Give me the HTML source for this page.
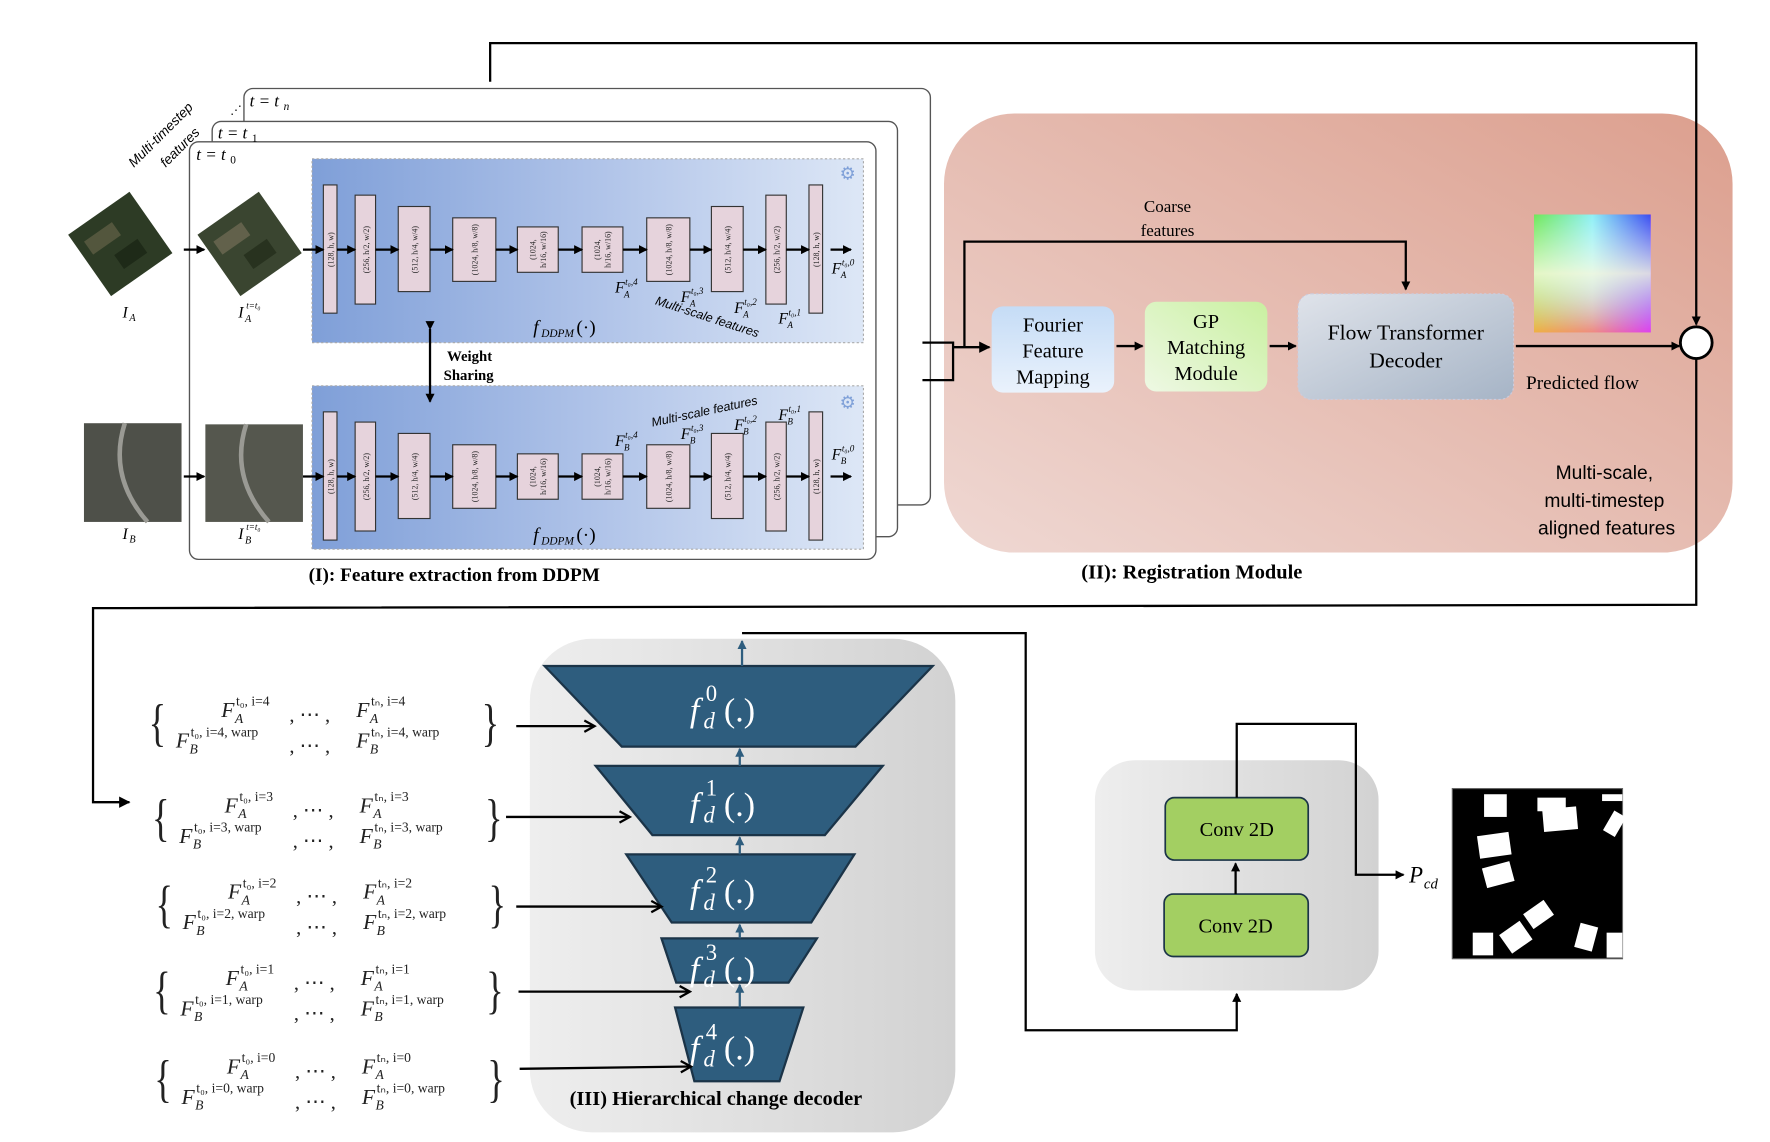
<!DOCTYPE html>
<html><head><meta charset="utf-8"><style>
html,body{margin:0;padding:0;background:#fff;width:1770px;height:1142px;overflow:hidden}
svg{display:block}
text{font-family:"Liberation Serif",serif}
.s{font-family:"Liberation Sans",sans-serif}
.bx{fill:#e6d3dc;stroke:#333;stroke-width:1}
.bt{font-size:7px;fill:#222}
.ln{stroke:#000;stroke-width:2;fill:none}
.it{font-style:italic}
.fd{font-family:"DejaVu Sans",sans-serif;fill:#fff}
</style></head><body>
<svg width="1770" height="1142" viewBox="0 0 1560 1006.5" preserveAspectRatio="none" xmlns="http://www.w3.org/2000/svg">
<defs>
<marker id="a" markerWidth="8" markerHeight="8" refX="7" refY="4" orient="auto" markerUnits="userSpaceOnUse"><path d="M0,0 L8,4 L0,8 Z" fill="#000"/></marker>
<marker id="ab" markerWidth="10" markerHeight="10" refX="9" refY="5" orient="auto" markerUnits="userSpaceOnUse"><path d="M0,0 L10,5 L0,10 Z" fill="#000"/></marker>
<marker id="ao" markerWidth="12" markerHeight="12" refX="10" refY="6" orient="auto" markerUnits="userSpaceOnUse"><path d="M1,1 L10,6 L1,11" fill="none" stroke="#000" stroke-width="2"/></marker>
<marker id="abl" markerWidth="8" markerHeight="8" refX="7" refY="4" orient="auto" markerUnits="userSpaceOnUse"><path d="M0,0 L8,4 L0,8 Z" fill="#2e5d7e"/></marker>
<linearGradient id="blue" x1="0" x2="1" y1="0" y2="0"><stop offset="0" stop-color="#7f9fd8"/><stop offset="0.5" stop-color="#aec2e8"/><stop offset="1" stop-color="#dde7f6"/></linearGradient>
<linearGradient id="pink" x1="0" x2="1" y1="1" y2="0"><stop offset="0" stop-color="#efd8d3"/><stop offset="1" stop-color="#dc9f8e"/></linearGradient>
<linearGradient id="four" x1="0" x2="0" y1="0" y2="1"><stop offset="0" stop-color="#c5dcf6"/><stop offset="1" stop-color="#eaf2fc"/></linearGradient>
<linearGradient id="gp" x1="1" x2="0" y1="0" y2="1"><stop offset="0" stop-color="#c9f0a0"/><stop offset="1" stop-color="#eef8e4"/></linearGradient>
<linearGradient id="flow" x1="0" x2="1" y1="0" y2="1"><stop offset="0" stop-color="#dfe3ea"/><stop offset="1" stop-color="#a6b4c6"/></linearGradient>
<linearGradient id="gray" x1="0" x2="1"><stop offset="0" stop-color="#eeeeee"/><stop offset="1" stop-color="#d2d2d2"/></linearGradient>
<linearGradient id="cw1" x1="0" x2="1"><stop offset="0" stop-color="#6fe85a"/><stop offset="0.5" stop-color="#8ff0f5"/><stop offset="1" stop-color="#3a4cf0"/></linearGradient>
<linearGradient id="cw2" x1="0" x2="1"><stop offset="0" stop-color="#f0b040"/><stop offset="0.5" stop-color="#f08a80"/><stop offset="1" stop-color="#e040f0"/></linearGradient>
<linearGradient id="cwv" x1="0" x2="0" y1="0" y2="1"><stop offset="0" stop-color="#fff" stop-opacity="0"/><stop offset="0.5" stop-color="#fffbe0" stop-opacity="0.8"/><stop offset="1" stop-color="#fff" stop-opacity="0"/></linearGradient>
<linearGradient id="gvert" x1="0" x2="0" y1="0" y2="1"><stop offset="0" stop-color="#fff"/><stop offset="0.45" stop-color="#fff"/><stop offset="1" stop-color="#000"/></linearGradient>
<mask id="m" maskUnits="userSpaceOnUse" x="1352" y="189" width="103" height="104"><rect x="1352" y="189" width="103" height="104" fill="url(#gvert)"/></mask>
</defs>

<rect x="832" y="100" width="695" height="387" rx="62" fill="url(#pink)"/>

<polyline class="ln" points="432,72 432,38 1495,38 1495,286" marker-end="url(#a)"/>

<rect x="215" y="78" width="605" height="367" rx="8" fill="#fff" stroke="#555" stroke-width="1.2"/>
<rect x="187" y="107" width="604" height="366" rx="8" fill="#fff" stroke="#555" stroke-width="1.2"/>
<rect x="167" y="125" width="605" height="368" rx="8" fill="#fff" stroke="#555" stroke-width="1.2"/>
<text x="220" y="94" font-size="15" class="it">t = t</text><text x="250" y="97" font-size="10" class="it">n</text>
<text x="192" y="122" font-size="15" class="it">t = t</text><text x="222" y="125" font-size="10">1</text>
<text x="173" y="141" font-size="15" class="it">t = t</text><text x="203" y="144" font-size="10">0</text>
<text x="203" y="100" font-size="10">⋰</text>
<text class="s" font-size="12" font-style="italic" transform="translate(118,148) rotate(-45)">Multi-timestep</text>
<text class="s" font-size="12" font-style="italic" transform="translate(146,148) rotate(-45)">features</text>

<rect x="275" y="140" width="486" height="162" fill="url(#blue)" stroke="#aaa" stroke-dasharray="2,2"/>
<rect x="275" y="340" width="486" height="144" fill="url(#blue)" stroke="#aaa" stroke-dasharray="2,2"/>
<text x="740" y="158" font-size="16" fill="#7fa0d8">⚙</text>
<text x="740" y="360" font-size="16" fill="#7fa0d8">⚙</text>

<g id="top">
<rect class="bx" x="285" y="163" width="12" height="113"/>
<rect class="bx" x="313" y="172" width="18" height="96"/>
<rect class="bx" x="351" y="182" width="28" height="75"/>
<rect class="bx" x="399" y="192" width="38" height="56"/>
<rect class="bx" x="456" y="200" width="36" height="40"/>
<rect class="bx" x="513" y="200" width="36" height="40"/>
<rect class="bx" x="570" y="192" width="38" height="56"/>
<rect class="bx" x="627" y="182" width="28" height="75"/>
<rect class="bx" x="675" y="172" width="18" height="96"/>
<rect class="bx" x="713" y="163" width="12" height="113"/>
<g class="bt" text-anchor="middle">
<text transform="translate(294,220) rotate(-90)">(128, h, w)</text>
<text transform="translate(325,220) rotate(-90)">(256, h/2, w/2)</text>
<text transform="translate(368,220) rotate(-90)">(512, h/4, w/4)</text>
<text transform="translate(421,220) rotate(-90)">(1024, h/8, w/8)</text>
<text transform="translate(472,220) rotate(-90)">(1024,</text>
<text transform="translate(481,220) rotate(-90)">h/16, w/16)</text>
<text transform="translate(529,220) rotate(-90)">(1024,</text>
<text transform="translate(538,220) rotate(-90)">h/16, w/16)</text>
<text transform="translate(592,220) rotate(-90)">(1024, h/8, w/8)</text>
<text transform="translate(644,220) rotate(-90)">(512, h/4, w/4)</text>
<text transform="translate(687,220) rotate(-90)">(256, h/2, w/2)</text>
<text transform="translate(722,220) rotate(-90)">(128, h, w)</text>
</g>
<g class="ln" stroke-width="1.5">
<line x1="267" y1="220" x2="285" y2="220" marker-end="url(#a)"/>
<line x1="297" y1="220" x2="313" y2="220" marker-end="url(#a)"/>
<line x1="331" y1="220" x2="351" y2="220" marker-end="url(#a)"/>
<line x1="379" y1="220" x2="399" y2="220" marker-end="url(#a)"/>
<line x1="437" y1="220" x2="456" y2="220" marker-end="url(#a)"/>
<line x1="492" y1="220" x2="513" y2="220" marker-end="url(#a)"/>
<line x1="549" y1="220" x2="570" y2="220" marker-end="url(#a)"/>
<line x1="608" y1="220" x2="627" y2="220" marker-end="url(#a)"/>
<line x1="655" y1="220" x2="675" y2="220" marker-end="url(#a)"/>
<line x1="693" y1="220" x2="713" y2="220" marker-end="url(#a)"/>
<line x1="732" y1="220" x2="750" y2="220" marker-end="url(#a)"/>
</g>
</g>
<use href="#top" transform="translate(0,200)"/>

<g class="it">
<text x="733" y="241" font-size="14">F</text><text x="742" y="234" font-size="8">t₀,0</text><text x="741" y="245" font-size="8">A</text>
<text x="542" y="258" font-size="14">F</text><text x="551" y="251" font-size="8">t₀,4</text><text x="550" y="262" font-size="8">A</text>
<text x="600" y="266" font-size="14">F</text><text x="609" y="259" font-size="8">t₀,3</text><text x="608" y="270" font-size="8">A</text>
<text x="647" y="276" font-size="14">F</text><text x="656" y="269" font-size="8">t₀,2</text><text x="655" y="280" font-size="8">A</text>
<text x="686" y="285" font-size="14">F</text><text x="695" y="278" font-size="8">t₀,1</text><text x="694" y="289" font-size="8">A</text>
<text x="733" y="405" font-size="14">F</text><text x="742" y="398" font-size="8">t₀,0</text><text x="741" y="409" font-size="8">B</text>
<text x="542" y="393" font-size="14">F</text><text x="551" y="386" font-size="8">t₀,4</text><text x="550" y="397" font-size="8">B</text>
<text x="600" y="387" font-size="14">F</text><text x="609" y="380" font-size="8">t₀,3</text><text x="608" y="391" font-size="8">B</text>
<text x="647" y="379" font-size="14">F</text><text x="656" y="372" font-size="8">t₀,2</text><text x="655" y="383" font-size="8">B</text>
<text x="686" y="370" font-size="14">F</text><text x="695" y="363" font-size="8">t₀,1</text><text x="694" y="374" font-size="8">B</text>
</g>
<text class="s it" font-size="11" transform="translate(577,268) rotate(18)">Multi-scale features</text>
<text class="s it" font-size="11" transform="translate(575,376) rotate(-12)">Multi-scale features</text>
<text x="470" y="294" font-size="17" class="it">f</text><text x="477" y="297" font-size="10" class="it">DDPM</text><text x="508" y="294" font-size="17">(·)</text>
<text x="470" y="477" font-size="17" class="it">f</text><text x="477" y="480" font-size="10" class="it">DDPM</text><text x="508" y="477" font-size="17">(·)</text>
<line class="ln" x1="379" y1="290" x2="379" y2="354" marker-start="url(#a)" marker-end="url(#a)" stroke-width="1.5"/>
<text x="394" y="318" font-size="13" font-weight="bold">Weight</text>
<text x="391" y="335" font-size="13" font-weight="bold">Sharing</text>

<g transform="translate(106,215) rotate(-35)"><rect x="-33" y="-33" width="66" height="66" fill="#2d3b25"/><rect x="-25" y="-20" width="30" height="14" fill="#7a7255" opacity="0.5"/><rect x="-10" y="5" width="25" height="15" fill="#1e2a18"/></g>
<g transform="translate(220,215) rotate(-35)"><rect x="-33" y="-33" width="66" height="66" fill="#3a4530"/><rect x="-25" y="-20" width="30" height="14" fill="#8a7e66" opacity="0.5"/><rect x="-10" y="5" width="25" height="15" fill="#28321f"/></g>
<line class="ln" x1="162" y1="220" x2="180" y2="220" marker-end="url(#a)" stroke-width="1.5"/>
<rect x="74" y="373" width="86" height="87" fill="#4e5049"/><path d="M110,373 Q95,420 130,460" stroke="#9a9a94" stroke-width="4" fill="none"/>
<rect x="181" y="374" width="86" height="86" fill="#55574e"/><path d="M217,374 Q202,420 237,460" stroke="#9a9a94" stroke-width="4" fill="none"/>
<line class="ln" x1="162" y1="420" x2="180" y2="420" marker-end="url(#a)" stroke-width="1.5"/>
<text x="108" y="280" font-size="14" class="it">I</text><text x="114" y="283" font-size="9" class="it">A</text>
<text x="210" y="280" font-size="14" class="it">I</text><text x="217" y="272" font-size="8" class="it">t=t₀</text><text x="216" y="284" font-size="9" class="it">A</text>
<text x="108" y="475" font-size="14" class="it">I</text><text x="114" y="478" font-size="9" class="it">B</text>
<text x="210" y="475" font-size="14" class="it">I</text><text x="217" y="467" font-size="8" class="it">t=t₀</text><text x="216" y="479" font-size="9" class="it">B</text>

<text x="272" y="512" font-size="17" font-weight="bold">(I): Feature extraction from DDPM</text>
<text x="953" y="510" font-size="18" font-weight="bold">(II): Registration Module</text>

<polyline class="ln" points="813,302 840,302 840,335 813,335" stroke-width="1.8"/>
<line class="ln" x1="840" y1="306" x2="872" y2="306" marker-end="url(#ab)"/>
<polyline class="ln" points="850,306 850,213 1239,213 1239,255" marker-end="url(#a)" stroke-width="1.5"/>
<text x="1029" y="187" font-size="15" text-anchor="middle">Coarse</text>
<text x="1029" y="208" font-size="15" text-anchor="middle">features</text>
<rect x="874" y="270" width="108" height="76" rx="10" fill="url(#four)"/>
<text font-size="18" text-anchor="middle"><tspan x="928" y="292">Fourier</tspan><tspan x="928" y="315">Feature</tspan><tspan x="928" y="338">Mapping</tspan></text>
<rect x="1009" y="266" width="108" height="79" rx="10" fill="url(#gp)"/>
<text font-size="18" text-anchor="middle"><tspan x="1063" y="289">GP</tspan><tspan x="1063" y="312">Matching</tspan><tspan x="1063" y="335">Module</tspan></text>
<rect x="1144" y="259" width="190" height="93" rx="12" fill="url(#flow)" stroke="#ccd" stroke-dasharray="2,2"/>
<text font-size="19" text-anchor="middle"><tspan x="1239" y="299">Flow Transformer</tspan><tspan x="1239" y="324">Decoder</tspan></text>
<line class="ln" x1="984" y1="305" x2="1007" y2="305" marker-end="url(#a)"/>
<line class="ln" x1="1119" y1="305" x2="1142" y2="305" marker-end="url(#a)"/>
<line class="ln" x1="1336" y1="305" x2="1480" y2="305" marker-end="url(#a)"/>
<rect x="1352" y="189" width="103" height="104" fill="url(#cw2)"/>
<rect x="1352" y="189" width="103" height="104" fill="url(#cw1)" mask="url(#m)"/>
<rect x="1352" y="189" width="103" height="104" fill="url(#cwv)"/>
<text x="1345" y="343" font-size="17">Predicted flow</text>
<text class="s" font-size="17" text-anchor="middle"><tspan x="1414" y="422">Multi-scale,</tspan><tspan x="1414" y="447">multi-timestep</tspan><tspan x="1416" y="471">aligned features</tspan></text>
<circle cx="1495" cy="302" r="14" fill="#fff" stroke="#000" stroke-width="2.5"/>
<polyline class="ln" points="1495,316 1495,533 82,536 82,707 114,707" marker-end="url(#ab)"/>

<rect x="467" y="563" width="375" height="435" rx="55" fill="url(#gray)"/>
<g fill="#2e5d7e" stroke="#1b3448" stroke-width="2">
<polygon points="480,587 822,587 754,658 548,658"/>
<polygon points="525,675 778,675 727,736 575,736"/>
<polygon points="552,753 753,753 715,813 592,813"/>
<polygon points="583,827 720,827 695,866 596,866"/>
<polygon points="595,888 708,888 687,953 612,953"/>
</g>
<g stroke="#2e5d7e" stroke-width="2">
<line x1="654" y1="587" x2="654" y2="565" marker-end="url(#abl)"/>
<line x1="652" y1="675" x2="652" y2="660" marker-end="url(#abl)"/>
<line x1="652" y1="753" x2="652" y2="738" marker-end="url(#abl)"/>
<line x1="652" y1="827" x2="652" y2="815" marker-end="url(#abl)"/>
<line x1="652" y1="888" x2="652" y2="868" marker-end="url(#abl)"/>
</g>
<g class="fd">
<text x="608" y="636" font-size="30" font-style="italic">f</text><text x="622" y="618" font-size="20">0</text><text x="620" y="642" font-size="20" font-style="italic">d</text><text x="638" y="636" font-size="30">(.)</text>
<text x="608" y="719" font-size="30" font-style="italic">f</text><text x="622" y="701" font-size="20">1</text><text x="620" y="725" font-size="20" font-style="italic">d</text><text x="638" y="719" font-size="30">(.)</text>
<text x="608" y="796" font-size="30" font-style="italic">f</text><text x="622" y="778" font-size="20">2</text><text x="620" y="802" font-size="20" font-style="italic">d</text><text x="638" y="796" font-size="30">(.)</text>
<text x="608" y="864" font-size="30" font-style="italic">f</text><text x="622" y="846" font-size="20">3</text><text x="620" y="870" font-size="20" font-style="italic">d</text><text x="638" y="864" font-size="30">(.)</text>
<text x="608" y="934" font-size="30" font-style="italic">f</text><text x="622" y="916" font-size="20">4</text><text x="620" y="940" font-size="20" font-style="italic">d</text><text x="638" y="934" font-size="30">(.)</text>
</g>
<text x="502" y="974" font-size="18" font-weight="bold">(III) Hierarchical change decoder</text>

<g class="ln" stroke-width="2.5">
<line x1="455" y1="640" x2="524" y2="640" marker-end="url(#ao)"/>
<line x1="446" y1="720" x2="555" y2="720" marker-end="url(#ao)"/>
<line x1="455" y1="799" x2="583" y2="799" marker-end="url(#ao)"/>
<line x1="457" y1="874" x2="608" y2="874" marker-end="url(#ao)"/>
<line x1="458" y1="942" x2="609" y2="940" marker-end="url(#ao)"/>
</g>

<g fill="#222">
<text x="130" y="652" font-size="46" transform="translate(40,0) scale(0.7,1)">{</text>
<text x="425" y="652" font-size="46" transform="translate(127,0) scale(0.7,1)">}</text>
<text x="195" y="632" font-size="19" class="it">F</text><text x="208" y="622" font-size="12">t₀, i=4</text><text x="207" y="637" font-size="12" class="it">A</text>
<text x="255" y="636" font-size="18">,  ⋯ ,</text>
<text x="314" y="632" font-size="19" class="it">F</text><text x="327" y="622" font-size="12">tₙ, i=4</text><text x="326" y="637" font-size="12" class="it">A</text>
<text x="155" y="659" font-size="19" class="it">F</text><text x="168" y="649" font-size="12">t₀, i=4, warp</text><text x="167" y="664" font-size="12" class="it">B</text>
<text x="255" y="663" font-size="18">,  ⋯ ,</text>
<text x="314" y="659" font-size="19" class="it">F</text><text x="327" y="649" font-size="12">tₙ, i=4, warp</text><text x="326" y="664" font-size="12" class="it">B</text>
</g>
<g fill="#222" transform="translate(3,84)">
<text x="130" y="652" font-size="46" transform="translate(40,0) scale(0.7,1)">{</text>
<text x="425" y="652" font-size="46" transform="translate(127,0) scale(0.7,1)">}</text>
<text x="195" y="632" font-size="19" class="it">F</text><text x="208" y="622" font-size="12">t₀, i=3</text><text x="207" y="637" font-size="12" class="it">A</text>
<text x="255" y="636" font-size="18">,  ⋯ ,</text>
<text x="314" y="632" font-size="19" class="it">F</text><text x="327" y="622" font-size="12">tₙ, i=3</text><text x="326" y="637" font-size="12" class="it">A</text>
<text x="155" y="659" font-size="19" class="it">F</text><text x="168" y="649" font-size="12">t₀, i=3, warp</text><text x="167" y="664" font-size="12" class="it">B</text>
<text x="255" y="663" font-size="18">,  ⋯ ,</text>
<text x="314" y="659" font-size="19" class="it">F</text><text x="327" y="649" font-size="12">tₙ, i=3, warp</text><text x="326" y="664" font-size="12" class="it">B</text>
</g>
<g fill="#222" transform="translate(6,160)">
<text x="130" y="652" font-size="46" transform="translate(40,0) scale(0.7,1)">{</text>
<text x="425" y="652" font-size="46" transform="translate(127,0) scale(0.7,1)">}</text>
<text x="195" y="632" font-size="19" class="it">F</text><text x="208" y="622" font-size="12">t₀, i=2</text><text x="207" y="637" font-size="12" class="it">A</text>
<text x="255" y="636" font-size="18">,  ⋯ ,</text>
<text x="314" y="632" font-size="19" class="it">F</text><text x="327" y="622" font-size="12">tₙ, i=2</text><text x="326" y="637" font-size="12" class="it">A</text>
<text x="155" y="659" font-size="19" class="it">F</text><text x="168" y="649" font-size="12">t₀, i=2, warp</text><text x="167" y="664" font-size="12" class="it">B</text>
<text x="255" y="663" font-size="18">,  ⋯ ,</text>
<text x="314" y="659" font-size="19" class="it">F</text><text x="327" y="649" font-size="12">tₙ, i=2, warp</text><text x="326" y="664" font-size="12" class="it">B</text>
</g>
<g fill="#222" transform="translate(4,236)">
<text x="130" y="652" font-size="46" transform="translate(40,0) scale(0.7,1)">{</text>
<text x="425" y="652" font-size="46" transform="translate(127,0) scale(0.7,1)">}</text>
<text x="195" y="632" font-size="19" class="it">F</text><text x="208" y="622" font-size="12">t₀, i=1</text><text x="207" y="637" font-size="12" class="it">A</text>
<text x="255" y="636" font-size="18">,  ⋯ ,</text>
<text x="314" y="632" font-size="19" class="it">F</text><text x="327" y="622" font-size="12">tₙ, i=1</text><text x="326" y="637" font-size="12" class="it">A</text>
<text x="155" y="659" font-size="19" class="it">F</text><text x="168" y="649" font-size="12">t₀, i=1, warp</text><text x="167" y="664" font-size="12" class="it">B</text>
<text x="255" y="663" font-size="18">,  ⋯ ,</text>
<text x="314" y="659" font-size="19" class="it">F</text><text x="327" y="649" font-size="12">tₙ, i=1, warp</text><text x="326" y="664" font-size="12" class="it">B</text>
</g>
<g fill="#222" transform="translate(5,314)">
<text x="130" y="652" font-size="46" transform="translate(40,0) scale(0.7,1)">{</text>
<text x="425" y="652" font-size="46" transform="translate(127,0) scale(0.7,1)">}</text>
<text x="195" y="632" font-size="19" class="it">F</text><text x="208" y="622" font-size="12">t₀, i=0</text><text x="207" y="637" font-size="12" class="it">A</text>
<text x="255" y="636" font-size="18">,  ⋯ ,</text>
<text x="314" y="632" font-size="19" class="it">F</text><text x="327" y="622" font-size="12">tₙ, i=0</text><text x="326" y="637" font-size="12" class="it">A</text>
<text x="155" y="659" font-size="19" class="it">F</text><text x="168" y="649" font-size="12">t₀, i=0, warp</text><text x="167" y="664" font-size="12" class="it">B</text>
<text x="255" y="663" font-size="18">,  ⋯ ,</text>
<text x="314" y="659" font-size="19" class="it">F</text><text x="327" y="649" font-size="12">tₙ, i=0, warp</text><text x="326" y="664" font-size="12" class="it">B</text>
</g>

<rect x="965" y="670" width="250" height="203" rx="35" fill="url(#gray)"/>
<polyline class="ln" points="654,558 904,558 904,908 1090,908 1090,876" marker-end="url(#a)"/>
<rect x="1027" y="703" width="126" height="55" rx="8" fill="#a3cf62" stroke="#1b3448" stroke-width="1.5"/>
<rect x="1026" y="788" width="127" height="55" rx="8" fill="#a3cf62" stroke="#1b3448" stroke-width="1.5"/>
<text x="1090" y="737" font-size="18" text-anchor="middle">Conv 2D</text>
<text x="1089" y="822" font-size="18" text-anchor="middle">Conv 2D</text>
<line class="ln" x1="1089" y1="788" x2="1089" y2="761" marker-end="url(#a)"/>
<polyline class="ln" points="1090,703 1090,638 1195,638 1195,771 1237,771" marker-end="url(#a)"/>
<text x="1242" y="778" font-size="20" class="it">P</text><text x="1255" y="783" font-size="13" class="it">cd</text>

<rect x="1280" y="695" width="150" height="150" fill="#000" stroke="#666"/>
<g fill="#fff">
<rect x="1308" y="700" width="20" height="20"/>
<rect x="1355" y="703" width="25" height="12"/>
<rect x="1360" y="712" width="30" height="20" transform="rotate(-5 1375 722)"/>
<rect x="1303" y="735" width="28" height="20" transform="rotate(-8 1317 745)"/>
<rect x="1308" y="762" width="25" height="18" transform="rotate(-15 1320 771)"/>
<rect x="1417" y="716" width="12" height="20" transform="rotate(30 1423 726)"/>
<rect x="1345" y="798" width="22" height="16" transform="rotate(-35 1356 806)"/>
<rect x="1325" y="816" width="22" height="20" transform="rotate(-35 1336 826)"/>
<rect x="1298" y="822" width="18" height="20"/>
<rect x="1390" y="815" width="16" height="22" transform="rotate(15 1398 826)"/>
<rect x="1416" y="822" width="14" height="22"/>
<rect x="1412" y="700" width="18" height="6"/>
</g>
</svg>
</body></html>
